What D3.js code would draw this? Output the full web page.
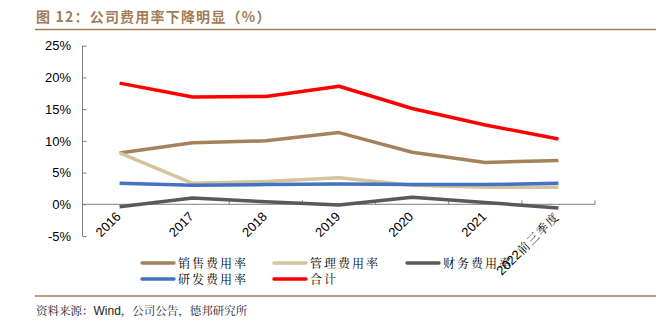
<!DOCTYPE html>
<html><head><meta charset="utf-8">
<script src="https://cdn.jsdelivr.net/npm/d3@7"></script>
<style>
body{margin:0;background:#fff;}
svg{display:block;}
</style></head>
<body><svg id="c" width="662" height="327"></svg>
<script>
const categories = ["2016","2017","2018","2019","2020","2021","2022前三季度"];
const salesRate = [8.1, 9.7, 10.0, 11.3, 8.2, 6.6, 6.9];
const adminRate = [8.1, 3.3, 3.6, 4.2, 3.0, 2.7, 2.7];
const financeRate = [-0.4, 1.0, 0.4, -0.1, 1.1, 0.3, -0.6];
const rdRate = [3.3, 3.0, 3.1, 3.2, 3.1, 3.1, 3.3];
const totalRate = [19.1, 16.9, 17.0, 18.6, 15.1, 12.5, 10.3];
const yTicks = [-5, 0, 5, 10, 15, 20, 25];

const series = [
  {name:"销售费用率", values:salesRate, color:"#a5825b"},
  {name:"管理费用率", values:adminRate, color:"#d5c59c"},
  {name:"财务费用率", values:financeRate, color:"#595959"},
  {name:"研发费用率", values:rdRate, color:"#4472c4"},
  {name:"合计", values:totalRate, color:"#ff0000"}
];

const svg = d3.select("#c");
const titleColor = "#a27c55";
const latin = "'Liberation Sans', Arial, 'Noto Sans CJK SC', sans-serif";
const cjk = "'Noto Serif CJK SC','Noto Sans CJK SC', sans-serif";

// title
svg.append("text").attr("x",36).attr("y",22)
  .attr("font-family","'Noto Sans CJK SC', sans-serif").attr("font-weight","bold")
  .attr("font-size",14).attr("fill",titleColor).attr("letter-spacing",1.2)
  .text("图 12：公司费用率下降明显（%）");
svg.append("line").attr("x1",35).attr("x2",656).attr("y1",29.5).attr("y2",29.5)
  .attr("stroke","#a27c55").attr("stroke-width",1.5);
svg.append("line").attr("x1",35).attr("x2",656).attr("y1",296).attr("y2",296)
  .attr("stroke","#a27c55").attr("stroke-width",1.5);
const src = svg.append("text").attr("x",36).attr("y",315)
  .attr("font-family",cjk).attr("font-size",11.5).attr("fill","#222");
src.append("tspan").text("资料来源：");
src.append("tspan").attr("font-family",latin).attr("font-size",12).text("Wind");
src.append("tspan").text("，公司公告，德邦研究所");

const x = d3.scaleBand().domain(categories).range([83, 595]);
const y = d3.scaleLinear().domain([-5, 25]).range([236, 45.7]);

// y axis
const yAxis = svg.append("g").attr("transform","translate(83,0)")
  .call(d3.axisLeft(y).tickValues(yTicks).tickSize(-4).tickPadding(12).tickFormat(d=>d+"%"));
yAxis.select(".domain").attr("stroke","#808080").attr("d","M-0.5,"+y(25)+"V"+y(-5));
yAxis.selectAll(".tick line").attr("stroke","#808080").attr("transform","translate(-0.5,0)");
yAxis.selectAll("text").attr("font-family",latin).attr("font-size",13).attr("fill","#000");

// x axis at zero
const xAxis = svg.append("g").attr("transform","translate(0,"+y(0)+")");
xAxis.append("line").attr("x1",83).attr("x2",595).attr("y1",0).attr("y2",0).attr("stroke","#808080");
const bounds = categories.map(c=>x(c)).concat([x(categories[categories.length-1])+x.bandwidth()]);
xAxis.selectAll(".xt").data(bounds.slice(1)).enter().append("line")
  .attr("x1",d=>d).attr("x2",d=>d).attr("y1",0).attr("y2",-4).attr("stroke","#808080");

// x labels
svg.selectAll(".xl").data(categories).enter().append("text")
  .attr("transform",d=>`translate(${x(d)+x.bandwidth()/2+2},${y(0)+13}) rotate(-45)`)
  .attr("text-anchor","end").attr("font-family",latin).attr("font-size",13).attr("fill","#000")
  .each(function(d){
    const t=d3.select(this);
    const m=d.match(/^(\d+)(.*)$/);
    t.append("tspan").text(m[1]);
    if(m[2]) t.append("tspan").attr("font-family",cjk).attr("font-size",12).attr("letter-spacing",1.5).text(m[2]);
  });

// lines
const line = d3.line().x((d,i)=>x(categories[i])+x.bandwidth()/2).y(d=>y(d));
series.forEach(s=>{
  svg.append("path").datum(s.values).attr("d",line).attr("fill","none")
    .attr("stroke",s.color).attr("stroke-width",3.5).attr("stroke-linejoin","round");
});

// legend
const legPos = [[142,263],[274,263],[407,263],[142,279],[274,279]];
series.forEach((s,i)=>{
  const [lx,ly]=legPos[i];
  svg.append("line").attr("x1",lx).attr("x2",lx+32).attr("y1",ly).attr("y2",ly)
    .attr("stroke",s.color).attr("stroke-width",3.5).attr("stroke-linecap","round");
  svg.append("text").attr("x",lx+36).attr("y",ly+4.5).attr("font-family",cjk)
    .attr("font-size",12).attr("letter-spacing",2).attr("fill","#000").text(s.name);
});
</script></body></html>
